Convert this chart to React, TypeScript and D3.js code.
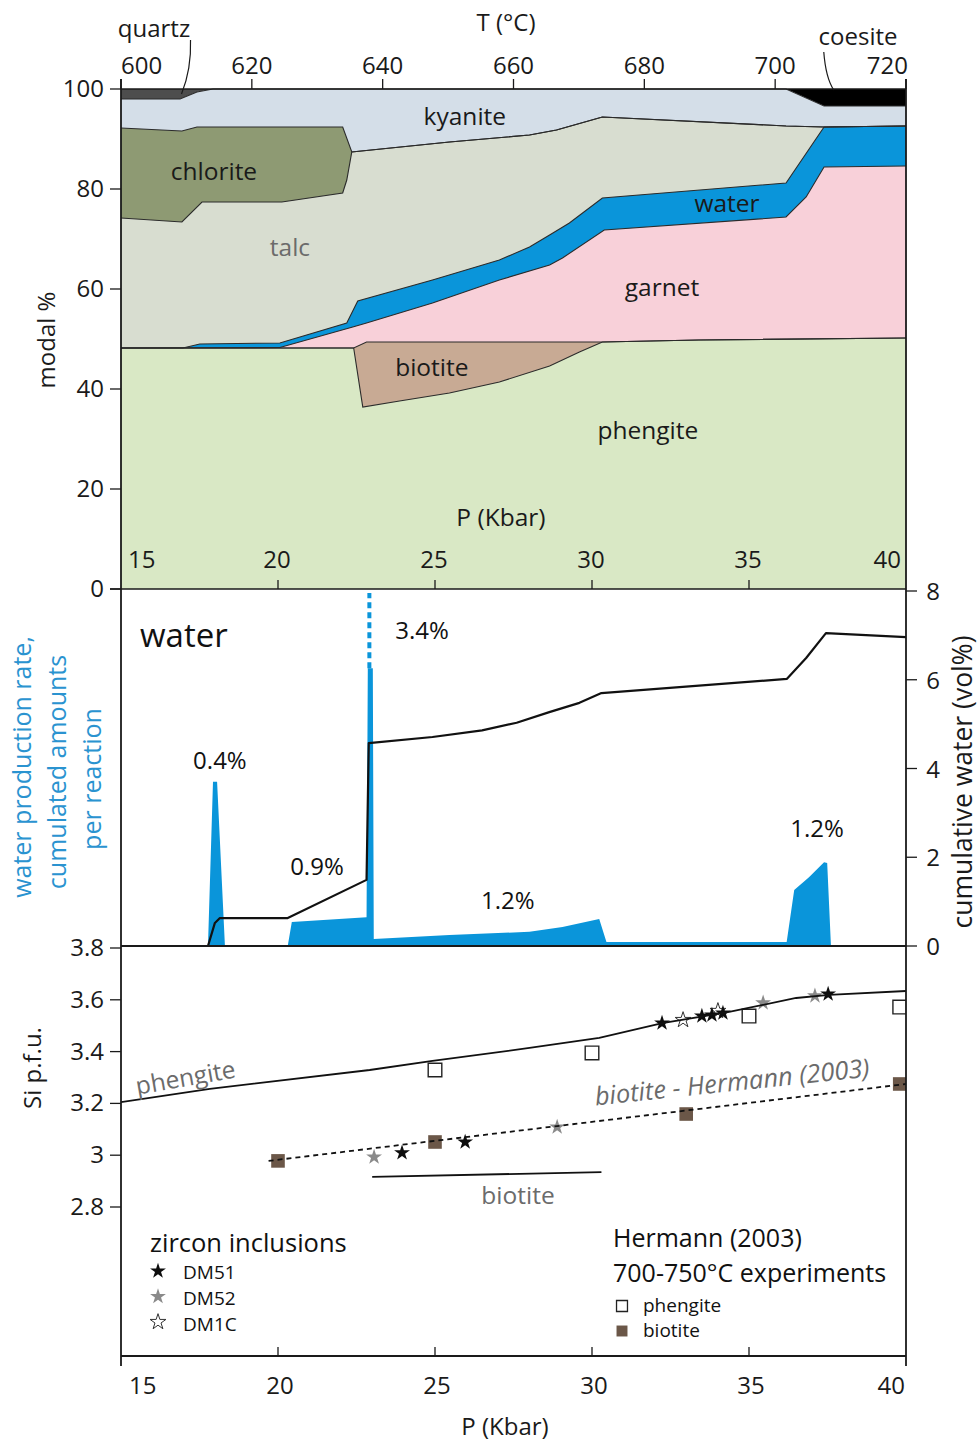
import * as d3 from 'd3';

type Pt = [number, number];

// ---- top panel: cumulative modal % (upper edge of each phase) vs P (kbar)
const phengiteTop: Pt[] = [[15, 48.2], [22.41, 48.2], [22.7, 36.4], [23.87, 37.6], [25.46, 39.2], [27.05, 41.4], [28.65, 44.6], [29.6, 47.4], [30.33, 49.4], [33.4, 49.8], [40, 50.2]];
const biotiteTop: Pt[] = [[15, 48.2], [22.41, 48.2], [22.82, 49.4], [30.33, 49.4], [33.4, 49.8], [40, 50.2]];
const garnetTop: Pt[] = [[15, 48.2], [20.06, 48.3], [22.38, 52.4], [22.82, 53.2], [24.92, 57.2], [27.05, 61.8], [28.65, 64.8], [29.06, 66.2], [30.39, 71.8], [36.18, 74.4], [36.82, 78.4], [37.39, 84.4], [40, 84.6]];
const waterTop: Pt[] = [[15, 48.2], [16.97, 48.2], [17.51, 49.0], [20.06, 49.2], [22.19, 53.2], [22.54, 57.6], [24.92, 61.8], [27.05, 65.8], [28.01, 68.4], [28.65, 70.8], [29.28, 73.2], [30.33, 78.2], [36.18, 81.2], [37.39, 92.4], [40, 92.6]];
const talcTop: Pt[] = [[15, 74.2], [16.94, 73.4], [17.58, 77.4], [20.12, 77.4], [22.06, 79.2], [22.19, 81.8], [22.35, 87.4], [25.46, 89.4], [28.01, 90.8], [28.87, 91.8], [30.33, 94.4], [36.18, 92.6], [37.39, 92.4], [40, 92.6]];
const chloriteEdge: Pt[] = [[15, 92.2], [16.94, 91.6], [17.42, 92.4], [22.06, 92.4]];
const kyaniteTop: Pt[] = [[15, 98], [16.88, 98], [17.42, 99.4], [17.93, 100], [36.18, 100], [37.39, 96.6], [40, 96.6]];
const chloriteTop: Pt[] = [...chloriteEdge, ...talcTop.filter((d) => d[0] >= 22.35)];

const mineralLabels: { text: string; p: number; m: number; gray?: boolean }[] = [
  { text: 'kyanite', p: 25.95, m: 94.4 },
  { text: 'chlorite', p: 17.96, m: 83.4 },
  { text: 'talc', p: 20.38, m: 68.2, gray: true },
  { text: 'water', p: 34.3, m: 77.0 },
  { text: 'garnet', p: 32.23, m: 60.2 },
  { text: 'biotite', p: 24.9, m: 44.2 },
  { text: 'phengite', p: 31.78, m: 31.6 },
  { text: 'P (Kbar)', p: 27.1, m: 14.2 },
];

// ---- middle panel
const waterRate: Pt[] = [[15, 0], [17.77, 0], [17.93, 3.7], [18.06, 3.7], [18.31, 0], [20.31, 0], [20.44, 0.54], [22.82, 0.65], [22.86, 6.26], [23.02, 6.26], [23.05, 0.16], [25.46, 0.25], [28.01, 0.32], [29.06, 0.43], [30.23, 0.61], [30.46, 0.09], [36.2, 0.09], [36.44, 1.26], [36.91, 1.55], [37.39, 1.89], [37.49, 1.87], [37.61, 0], [40, 0]];
const cumWater: Pt[] = [[15, 0], [17.77, 0], [17.99, 0.52], [18.15, 0.63], [20.31, 0.63], [22.82, 1.49], [22.89, 4.57], [24.92, 4.71], [26.5, 4.86], [27.6, 5.03], [28.64, 5.27], [29.6, 5.48], [30.3, 5.7], [36.21, 6.02], [36.82, 6.49], [37.45, 7.05], [40, 6.96]];
const rateLabels: { text: string; p: number; v: number }[] = [
  { text: '0.4%', p: 18.15, v: 4.17 },
  { text: '0.9%', p: 21.24, v: 1.78 },
  { text: '3.4%', p: 24.59, v: 7.1 },
  { text: '1.2%', p: 27.32, v: 1.01 },
  { text: '1.2%', p: 37.17, v: 2.64 },
];

// ---- bottom panel: Si p.f.u.
const phengiteModel: Pt[] = [[15, 3.205], [17.83, 3.256], [22.92, 3.329], [24.92, 3.364], [28.01, 3.414], [30.23, 3.453], [32.24, 3.51], [34.37, 3.553], [36.5, 3.607], [37.55, 3.619], [40, 3.634]];
const biotiteModel: Pt[] = [[23.0, 2.916], [30.3, 2.935]];
const biotiteHermannFit: Pt[] = [[19.7, 2.978], [40, 3.275]];
const hermannPhengite: Pt[] = [[25, 3.329], [30, 3.395], [35, 3.537], [39.8, 3.572]];
const hermannBiotite: Pt[] = [[20, 2.978], [25, 3.051], [33, 3.159], [39.8, 3.275]];
const dm51: Pt[] = [[23.95, 3.009], [25.96, 3.051], [32.23, 3.51], [33.5, 3.537], [33.82, 3.541], [34.17, 3.549], [37.52, 3.622]];
const dm52: Pt[] = [[23.06, 2.993], [28.89, 3.109], [35.45, 3.588], [37.1, 3.615]];
const dm1c: Pt[] = [[32.9, 3.522], [34.01, 3.557]];

const tTicks = [600, 620, 640, 660, 680, 700, 720];
const pTicks = [15, 20, 25, 30, 35, 40];
const modalTicks = [0, 20, 40, 60, 80, 100];
const cumTicks = [0, 2, 4, 6, 8];
const siTicks = [2.8, 3, 3.2, 3.4, 3.6, 3.8];

const FONT = "'Open Sans', 'Noto Sans', sans-serif";
const BLUE = '#0a95da';
const GRAY = '#6b6b6b';
const AX = '#1a1a1a';

const x = d3.scaleLinear().domain([15, 40]).range([121, 906]);
const xT = d3.scaleLinear().domain([600, 720]).range([121, 906]);
const yM = d3.scaleLinear().domain([0, 100]).range([589, 89]);
const yW = d3.scaleLinear().domain([0, 8]).range([946, 591]);
const yS = d3.scaleLinear().domain([2.8, 3.8]).range([1207, 948]);

const layers = [
  { top: kyaniteTop, fill: '#d4dee8' },
  { top: chloriteTop, fill: '#8e9a73' },
  { top: talcTop, fill: '#d8ddd0' },
  { top: waterTop, fill: BLUE },
  { top: garnetTop, fill: '#f8d0d9' },
  { top: biotiteTop, fill: '#c8aa94' },
  { top: phengiteTop, fill: '#d9e8c5' },
];

const areaM = d3.area<Pt>().x((d) => x(d[0])).y0(yM(0)).y1((d) => yM(d[1]));
const capArea = d3.area<Pt>().x((d) => x(d[0])).y0((d) => yM(d[1])).y1(yM(100));
const lineM = d3.line<Pt>().x((d) => x(d[0])).y((d) => yM(d[1]));
const rateArea = d3.area<Pt>().x((d) => x(d[0])).y0(yW(0)).y1((d) => yW(d[1]));
const lineW = d3.line<Pt>().x((d) => x(d[0])).y((d) => yW(d[1]));
const lineS = d3.line<Pt>().x((d) => x(d[0])).y((d) => yS(d[1]));

const starPath = d3.symbol(d3.symbolStar, 78)() as string;
const squarePath = d3.symbol(d3.symbolSquare, 185)() as string;
const legendSquare = d3.symbol(d3.symbolSquare, 120)() as string;

const edgeAnchor = (i: number, n: number) => (i === 0 ? 'start' : i === n - 1 ? 'end' : 'middle');

export default function App() {
  const spike = waterRate.reduce((a, b) => (b[1] > a[1] ? b : a));
  const quartz = kyaniteTop.filter((d) => d[0] <= 17.93);
  const coesite = kyaniteTop.filter((d) => d[0] >= 36.18);

  return (
    <svg width={979} height={1441} style={{ position: 'absolute', left: 0, top: 0, background: '#fff' }} fontFamily={FONT}>
      <defs>
        <clipPath id="siClip">
          <rect x={x(15)} y={946} width={x(40) - x(15)} height={410} />
        </clipPath>
      </defs>

      {/* ---------- top panel ---------- */}
      <path d={capArea(quartz) as string} fill="#4d4d4d" />
      <path d={capArea(coesite) as string} fill="#000" />
      {layers.map((l, i) => (
        <path key={'a' + i} d={areaM(l.top) as string} fill={l.fill} />
      ))}
      {layers.map((l, i) => (
        <path key={'l' + i} d={lineM(l.top) as string} fill="none" stroke="#2b2b2b" strokeWidth={1.1} />
      ))}
      {mineralLabels.map((d) => (
        <text key={d.text} x={x(d.p)} y={yM(d.m) + 8} textAnchor="middle" fontSize={24.5} fill={d.gray ? GRAY : '#1a1a1a'}>
          {d.text}
        </text>
      ))}

      {/* top T axis */}
      <line x1={121} x2={906} y1={yM(100)} y2={yM(100)} stroke={AX} strokeWidth={1.5} />
      {tTicks.map((t, i) => (
        <g key={'t' + t}>
          <line x1={xT(t)} x2={xT(t)} y1={yM(100)} y2={yM(100) - 10} stroke={AX} strokeWidth={1.3} />
          <text x={xT(t) + (i === tTicks.length - 1 ? 2 : 0)} y={74} textAnchor={edgeAnchor(i, tTicks.length)} fontSize={24} fill={AX}>
            {t}
          </text>
        </g>
      ))}
      <text x={506} y={31} textAnchor="middle" fontSize={24} fill={AX}>T (°C)</text>
      <text x={154} y={37} textAnchor="middle" fontSize={24} fill={AX}>quartz</text>
      <path d={`M${x(16.8) + 4},${yM(99)} Q${x(16.8) + 14},${yM(99) - 25} ${x(16.8) + 13},${yM(99) - 54}`} fill="none" stroke={AX} strokeWidth={1.2} />
      <text x={858} y={45} textAnchor="middle" fontSize={24} fill={AX}>coesite</text>
      <path d={`M${x(37.7)},${yM(99.8)} Q${x(37.7) - 8},${yM(99.8) - 12} ${x(37.7) - 10},${yM(99.8) - 38}`} fill="none" stroke={AX} strokeWidth={1.2} />

      {/* left modal axis */}
      {modalTicks.map((t) => (
        <g key={'m' + t}>
          <line x1={110} x2={121} y1={yM(t)} y2={yM(t)} stroke={AX} strokeWidth={1.3} />
          <text x={104} y={yM(t) + 8} textAnchor="end" fontSize={24} fill={AX}>{t}</text>
        </g>
      ))}
      <text transform={`translate(55,340) rotate(-90)`} textAnchor="middle" fontSize={24} fill={AX}>modal %</text>
      {pTicks.map((t, i) => (
        <g key={'pt' + t}>
          {i > 0 && i < pTicks.length - 1 && <line x1={x(t)} x2={x(t)} y1={yM(0)} y2={yM(0) - 9} stroke={AX} strokeWidth={1.3} />}
          <text x={x(t) + (i === 0 ? 7 : i === pTicks.length - 1 ? -5 : -1)} y={568} textAnchor={edgeAnchor(i, pTicks.length)} fontSize={24} fill={AX}>{t}</text>
        </g>
      ))}
      <line x1={110} x2={906} y1={yM(0)} y2={yM(0)} stroke={AX} strokeWidth={1.6} />

      {/* ---------- middle panel ---------- */}
      <path d={rateArea(waterRate) as string} fill={BLUE} />
      <line x1={x((spike[0] + 22.96) / 2)} x2={x((spike[0] + 22.96) / 2)} y1={yW(spike[1])} y2={yW(8) + 2} stroke={BLUE} strokeWidth={4} strokeDasharray="6 4" />
      <path d={lineW(cumWater) as string} fill="none" stroke="#111" strokeWidth={2.2} strokeLinejoin="round" />
      <text x={140} y={647} fontSize={33} fill="#111">water</text>
      {rateLabels.map((d, i) => (
        <text key={'r' + i} x={x(d.p)} y={yW(d.v) + 8} textAnchor="middle" fontSize={24} fill="#111">{d.text}</text>
      ))}
      {cumTicks.map((t) => (
        <g key={'c' + t}>
          <line x1={906} x2={917} y1={yW(t)} y2={yW(t)} stroke={AX} strokeWidth={1.3} />
          <text x={933} y={yW(t) + 9} textAnchor="middle" fontSize={24} fill={AX}>{t}</text>
        </g>
      ))}
      <text transform={`translate(972,782) rotate(-90)`} textAnchor="middle" fontSize={26.5} fill={AX}>cumulative water (vol%)</text>
      <g fontSize={25} fill="#2a93d0" textAnchor="middle">
        <text transform={`translate(31,767) rotate(-90)`}>water production rate,</text>
        <text transform={`translate(66,772) rotate(-90)`}>cumulated amounts</text>
        <text transform={`translate(101,779) rotate(-90)`}>per reaction</text>
      </g>
      <line x1={121} x2={906} y1={yW(0)} y2={yW(0)} stroke={AX} strokeWidth={1.8} />

      {/* ---------- bottom panel ---------- */}
      <g clipPath="url(#siClip)">
        {hermannPhengite.map((d, i) => (
          <path key={'hp' + i} d={squarePath} transform={`translate(${x(d[0])},${yS(d[1])})`} fill="#fff" stroke="#222" strokeWidth={1.4} />
        ))}
        {hermannBiotite.map((d, i) => (
          <path key={'hb' + i} d={squarePath} transform={`translate(${x(d[0])},${yS(d[1])})`} fill="#6b5748" />
        ))}
        {dm52.map((d, i) => (
          <path key={'s2' + i} d={starPath} transform={`translate(${x(d[0])},${yS(d[1])})`} fill="#8a8a8a" />
        ))}
        {dm1c.map((d, i) => (
          <path key={'s3' + i} d={starPath} transform={`translate(${x(d[0])},${yS(d[1])})`} fill="#fff" stroke="#333" strokeWidth={1} />
        ))}
        {dm51.map((d, i) => (
          <path key={'s1' + i} d={starPath} transform={`translate(${x(d[0])},${yS(d[1])})`} fill="#0d0d0d" />
        ))}
        <path d={lineS(phengiteModel) as string} fill="none" stroke="#111" strokeWidth={1.8} />
        <path d={lineS(biotiteHermannFit) as string} fill="none" stroke="#111" strokeWidth={1.8} strokeDasharray="5 4" />
        <path d={lineS(biotiteModel) as string} fill="none" stroke="#111" strokeWidth={1.8} />
      </g>
      <text transform={`translate(187,1086) rotate(-10)`} textAnchor="middle" fontSize={24.5} fill={GRAY}>phengite</text>
      <text transform={`translate(733,1091) rotate(-6)`} textAnchor="middle" fontSize={25.5} fontStyle="italic" fill={GRAY}>biotite - Hermann (2003)</text>
      <text x={518} y={1204} textAnchor="middle" fontSize={24.5} fill={GRAY}>biotite</text>

      {siTicks.map((t) => (
        <g key={'si' + t}>
          <line x1={110} x2={121} y1={yS(t)} y2={yS(t)} stroke={AX} strokeWidth={1.3} />
          <text x={104} y={yS(t) + 8} textAnchor="end" fontSize={24} fill={AX}>{String(t)}</text>
        </g>
      ))}
      <text transform={`translate(41,1068) rotate(-90)`} textAnchor="middle" fontSize={24} fill={AX}>Si p.f.u.</text>

      <line x1={121} x2={906} y1={1356} y2={1356} stroke={AX} strokeWidth={1.8} />
      {pTicks.map((t, i) => (
        <g key={'bp' + t}>
          {i > 0 && i < pTicks.length - 1 && <line x1={x(t)} x2={x(t)} y1={1356} y2={1347} stroke={AX} strokeWidth={1.3} />}
          <text x={x(t) + (i === 0 ? 8 : i === pTicks.length - 1 ? -1 : 2)} y={1394} textAnchor={edgeAnchor(i, pTicks.length)} fontSize={24} fill={AX}>{t}</text>
        </g>
      ))}
      <text x={505} y={1435} textAnchor="middle" fontSize={24} fill={AX}>P (Kbar)</text>

      {/* legends */}
      <text x={150} y={1252} fontSize={25.5} fill="#111">zircon inclusions</text>
      {[
        { label: 'DM51', fill: '#0d0d0d', stroke: 'none' },
        { label: 'DM52', fill: '#8a8a8a', stroke: 'none' },
        { label: 'DM1C', fill: '#fff', stroke: '#333' },
      ].map((s, i) => (
        <g key={s.label}>
          <path d={starPath} transform={`translate(158,${1271 + i * 25.5})`} fill={s.fill} stroke={s.stroke} strokeWidth={1} />
          <text x={183} y={1279 + i * 26} fontSize={19} fill="#111">{s.label}</text>
        </g>
      ))}
      <text x={613} y={1247} fontSize={25} fill="#111">Hermann (2003)</text>
      <text x={613} y={1282} fontSize={25} fill="#111">700-750°C experiments</text>
      <path d={legendSquare} transform="translate(622,1306)" fill="#fff" stroke="#222" strokeWidth={1.3} />
      <text x={643} y={1312} fontSize={19} fill="#111">phengite</text>
      <path d={legendSquare} transform="translate(622,1331)" fill="#6b5748" />
      <text x={643} y={1337} fontSize={19} fill="#111">biotite</text>

      {/* frame verticals */}
      <line x1={121} x2={121} y1={yM(100) - 10} y2={1366} stroke={AX} strokeWidth={1.8} />
      <line x1={906} x2={906} y1={yM(100) - 10} y2={1366} stroke={AX} strokeWidth={1.8} />
    </svg>
  );
}
